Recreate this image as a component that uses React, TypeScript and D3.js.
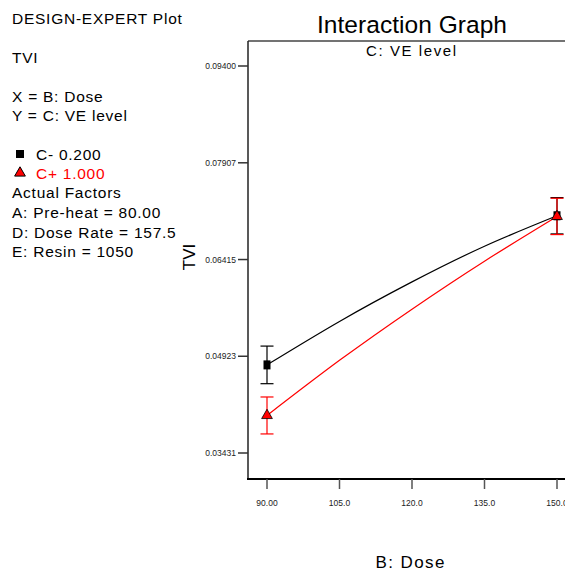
import * as d3 from "d3"

const doseTicks = [90, 105, 120, 135, 150]
const doseTickLabels = ["90.00", "105.0", "120.0", "135.0", "150.0"]
const tviTicks = [0.03431, 0.04923, 0.06415, 0.07907, 0.094]

// fitted curves
const curveDose = [90, 105, 120, 135, 150]
const cMinusCurve = [0.0479, 0.0546, 0.0607, 0.0662, 0.0709]
const cPlusCurve = [0.0401, 0.0486, 0.0565, 0.0639, 0.0708]

// design points with error bars
const pointDose = [90, 150]
const cMinusMean = [0.0479, 0.0709]
const cMinusErr = [0.0029, 0.0028]
const cPlusMean = [0.0401, 0.0708]
const cPlusErr = [0.00285, 0.0028]

const infoLines = [
	{ text: "DESIGN-EXPERT Plot", y: 24, color: "#000" },
	{ text: "TVI", y: 63, color: "#000" },
	{ text: "X = B: Dose", y: 102, color: "#000" },
	{ text: "Y = C: VE level", y: 121, color: "#000" },
	{ text: "C- 0.200", y: 160, color: "#000", x: 36 },
	{ text: "C+ 1.000", y: 179, color: "#ff0000", x: 36 },
	{ text: "Actual Factors", y: 198, color: "#000" },
	{ text: "A: Pre-heat = 80.00", y: 218, color: "#000" },
	{ text: "D: Dose Rate = 157.5", y: 238, color: "#000" },
	{ text: "E: Resin = 1050", y: 257, color: "#000" },
]

const font = "'Liberation Sans', Arial, sans-serif"

export default function App() {
	const width = 565
	const height = 571
	const frameLeft = 248
	const frameTop = 41
	const frameBottom = 479
	const frameRight = 590

	const x = d3.scaleLinear().domain([90, 150]).range([267, 557])
	const y = d3.scaleLinear().domain([0.03431, 0.094]).range([453, 66])

	const line = d3
		.line<number>()
		.x((d, i) => x(curveDose[i]))
		.y((d) => y(d))
		.curve(d3.curveNatural)

	const tri = d3.symbol(d3.symbolTriangle, 50)()
	const triLegend = d3.symbol(d3.symbolTriangle, 50)()

	const errBar = (dose, mean, err, color, key) => {
		const cx = x(dose)
		const y0 = y(mean - err)
		const y1 = y(mean + err)
		return (
			<g key={key} stroke={color} strokeWidth={1.2}>
				<line x1={cx} x2={cx} y1={y0} y2={y1} />
				<line x1={cx - 6.5} x2={cx + 6.5} y1={y0} y2={y0} />
				<line x1={cx - 6.5} x2={cx + 6.5} y1={y1} y2={y1} />
			</g>
		)
	}

	return (
		<svg
			width={width}
			height={height}
			style={{ position: "absolute", left: 0, top: 0, background: "#fff" }}
			fontFamily={font}
		>
			{/* info panel */}
			{infoLines.map((l, i) => (
				<text
					key={i}
					x={l.x ?? 12}
					y={l.y}
					fontSize={15.5}
					letterSpacing={0.75}
					fill={l.color}
				>
					{l.text}
				</text>
			))}
			<rect x={16} y={150} width={8} height={8} fill="#000" />
			<path
				d={triLegend}
				transform="translate(20,173)"
				fill="#ff0000"
				stroke="#000"
				strokeWidth={1}
			/>

			{/* titles */}
			<text x={412} y={33} fontSize={24.5} textAnchor="middle" textLength={190}>
				Interaction Graph
			</text>
			<text x={411} y={56} fontSize={15} textAnchor="middle" textLength={90}>
				C: VE level
			</text>

			{/* frame */}
			<line x1={frameLeft} x2={frameRight} y1={frameTop} y2={frameTop} stroke="#444" strokeWidth={1.5} />
			<line x1={frameLeft} x2={frameLeft} y1={frameTop} y2={frameBottom} stroke="#222" strokeWidth={1.5} />
			<line x1={frameLeft - 1} x2={frameRight} y1={frameBottom} y2={frameBottom} stroke="#000" strokeWidth={2} />

			{/* y axis */}
			{tviTicks.map((t) => (
				<g key={t}>
					<line x1={frameLeft - 10} x2={frameLeft} y1={y(t)} y2={y(t)} stroke="#333" strokeWidth={1.5} />
					<text x={frameLeft - 12} y={y(t) + 3} fontSize={8.5} textAnchor="end" fill="#222">
						{t.toFixed(5)}
					</text>
				</g>
			))}
			<text
				transform={`translate(195,257) rotate(-90)`}
				fontSize={17}
				textAnchor="middle"
			>
				TVI
			</text>

			{/* x axis */}
			{doseTicks.map((t, i) => (
				<g key={t}>
					<line x1={x(t)} x2={x(t)} y1={frameBottom} y2={frameBottom + 10} stroke="#555" strokeWidth={1.5} />
					<text x={x(t)} y={506} fontSize={8.5} textAnchor="middle" fill="#222">
						{doseTickLabels[i]}
					</text>
				</g>
			))}
			<text x={410} y={568} fontSize={17} textAnchor="middle" textLength={69}>
				B: Dose
			</text>

			{/* error bars */}
			{pointDose.map((d, i) => errBar(d, cMinusMean[i], cMinusErr[i], "#000", "m" + i))}
			{pointDose.map((d, i) => errBar(d, cPlusMean[i], cPlusErr[i], "#ff0000", "p" + i))}

			{/* fitted lines */}
			<path d={line(cMinusCurve)} fill="none" stroke="#000" strokeWidth={1.2} />
			<path d={line(cPlusCurve)} fill="none" stroke="#ff0000" strokeWidth={1.2} />

			{/* markers */}
			{pointDose.map((d, i) => (
				<rect
					key={"s" + i}
					x={x(d) - 3.5}
					y={y(cMinusMean[i]) - 4.5}
					width={7}
					height={9}
					fill="#000"
				/>
			))}
			{pointDose.map((d, i) => (
				<path
					key={"t" + i}
					d={tri}
					transform={`translate(${x(d)},${y(cPlusMean[i])})`}
					fill="#ff0000"
					stroke="#000"
					strokeWidth={0.8}
				/>
			))}
		</svg>
	)
}
